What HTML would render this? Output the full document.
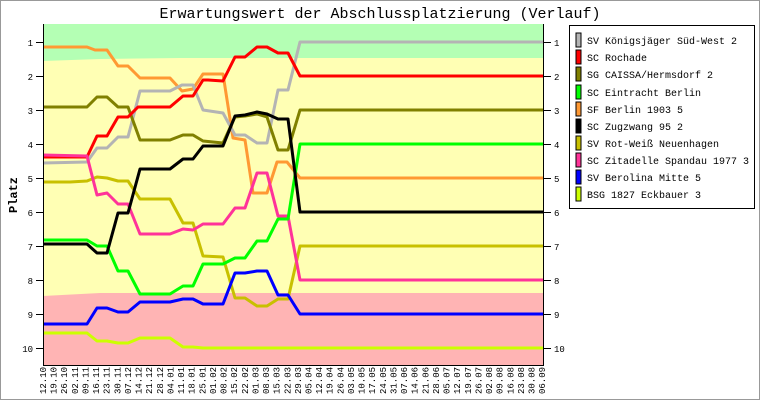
<!DOCTYPE html>
<html><head><meta charset="utf-8"><style>
html,body{margin:0;padding:0;background:#fff}
svg{display:block}
text{font-family:"Liberation Mono","DejaVu Sans Mono",monospace}
</style></head><body>
<svg width="760" height="400" viewBox="0 0 760 400" xmlns="http://www.w3.org/2000/svg">
<rect x="0.5" y="0.5" width="759" height="399" fill="#fff" stroke="#999"/>
<text x="380" y="18" font-size="15" text-anchor="middle">Erwartungswert der Abschlussplatzierung (Verlauf)</text>
<rect x="43" y="24" width="501" height="341" fill="#ffb4b4"/>
<polygon points="43,24 544,24 544,293 100,293 43,296" fill="#ffffb4"/>
<polygon points="43,24 544,24 544,58 180,58 100,59 43,61" fill="#b4ffb4"/>
<g fill="none" stroke-width="3" stroke-linejoin="round">
<polyline stroke="#ff9933" points="43,47 87,47 95,50 107,50 118,66 128,66 140,78 170,78 182,91 193,89 203,74 223,74 233,138 245,140 253,193 267,193 277,162 287,162 300,178 543,178"/>
<polyline stroke="#b4b4b4" points="43,163 87,162 97,148 107,148 118,137 128,137 140,91 170,91 182,85 193,85 203,110 223,113 235,135 245,135 257,143 267,143 278,90 288,90 300,42 543,42"/>
<polyline stroke="#808000" points="43,107 87,107 97,97 107,97 118,107 128,107 140,140 170,140 183,135 193,135 203,141 223,143 235,117 245,116 257,114 267,117 278,150 288,150 300,110 543,110"/>
<polyline stroke="#ff0000" points="43,157 87,157 97,136 107,136 118,117 128,117 138,107 170,107 183,96 193,96 203,80 208,80 223,81 235,57 245,57 257,47 267,47 278,53 288,53 300,76 543,76"/>
<polyline stroke="#c8c000" points="43,182 70,182 87,181 97,177 107,178 118,181 128,181 140,199 170,199 183,223 193,223 203,256 223,257 235,298 245,298 257,306 267,306 278,299 288,299 300,246 543,246"/>
<polyline stroke="#ff3399" points="43,155 87,156 97,195 107,193 118,204 128,204 140,234 170,234 183,229 193,230 203,224 223,224 235,208 245,208 257,173 267,173 278,216 288,216 300,280 543,280"/>
<polyline stroke="#00ff00" points="43,240 87,240 97,246 107,246 118,271 128,271 140,294 170,294 183,286 193,286 203,264 223,264 235,258 245,258 257,241 267,241 278,219 288,219 300,144 543,144"/>
<polyline stroke="#000000" points="43,244 87,244 97,253 107,253 118,213 128,213 140,169 170,169 183,159 193,159 203,146 223,146 235,116 245,115 257,112 267,114 278,119 288,119 300,212 543,212"/>
<polyline stroke="#0000ff" points="43,324 87,324 97,308 107,308 118,312 128,312 140,302 170,302 183,299 193,299 203,304 223,304 235,273 245,273 257,271 267,271 278,295 288,295 300,314 543,314"/>
<polyline stroke="#ccff00" points="43,333 87,333 97,341 107,341 118,343 128,343 140,338 170,338 183,347 193,347 203,348 543,348"/>
</g>
<g stroke="#000" stroke-width="1">
<line x1="43.5" y1="24" x2="43.5" y2="365.5"/>
<line x1="543.5" y1="24" x2="543.5" y2="365.5"/>
<line x1="43" y1="365.5" x2="544" y2="365.5"/>
<line x1="36" y1="42.5" x2="43" y2="42.5"/><line x1="544" y1="42.5" x2="551" y2="42.5"/>
<line x1="36" y1="76.5" x2="43" y2="76.5"/><line x1="544" y1="76.5" x2="551" y2="76.5"/>
<line x1="36" y1="110.5" x2="43" y2="110.5"/><line x1="544" y1="110.5" x2="551" y2="110.5"/>
<line x1="36" y1="144.5" x2="43" y2="144.5"/><line x1="544" y1="144.5" x2="551" y2="144.5"/>
<line x1="36" y1="178.5" x2="43" y2="178.5"/><line x1="544" y1="178.5" x2="551" y2="178.5"/>
<line x1="36" y1="212.5" x2="43" y2="212.5"/><line x1="544" y1="212.5" x2="551" y2="212.5"/>
<line x1="36" y1="246.5" x2="43" y2="246.5"/><line x1="544" y1="246.5" x2="551" y2="246.5"/>
<line x1="36" y1="280.5" x2="43" y2="280.5"/><line x1="544" y1="280.5" x2="551" y2="280.5"/>
<line x1="36" y1="314.5" x2="43" y2="314.5"/><line x1="544" y1="314.5" x2="551" y2="314.5"/>
<line x1="36" y1="348.5" x2="43" y2="348.5"/><line x1="544" y1="348.5" x2="551" y2="348.5"/>
</g>
<g font-size="9" text-anchor="end">
<text x="33" y="46">1</text><text x="33" y="80">2</text><text x="33" y="114">3</text><text x="33" y="148">4</text><text x="33" y="182">5</text><text x="33" y="216">6</text><text x="33" y="250">7</text><text x="33" y="284">8</text><text x="33" y="318">9</text><text x="33" y="352">10</text>
</g>
<g font-size="9">
<text x="554" y="46">1</text><text x="554" y="80">2</text><text x="554" y="114">3</text><text x="554" y="148">4</text><text x="554" y="182">5</text><text x="554" y="216">6</text><text x="554" y="250">7</text><text x="554" y="284">8</text><text x="554" y="318">9</text><text x="554" y="352">10</text>
</g>
<text x="17" y="195" font-size="12" font-weight="bold" text-anchor="middle" transform="rotate(-90 17 195)">Platz</text>
<rect x="569.5" y="25.5" width="185" height="183" fill="#fff" stroke="#000"/>
<g stroke="#000" stroke-width="1">
<rect x="576" y="33" width="5" height="14" fill="#b4b4b4"/>
<rect x="576" y="50" width="5" height="14" fill="#ff0000"/>
<rect x="576" y="67" width="5" height="14" fill="#808000"/>
<rect x="576" y="85" width="5" height="14" fill="#00ff00"/>
<rect x="576" y="102" width="5" height="14" fill="#ff9933"/>
<rect x="576" y="119" width="5" height="14" fill="#000000"/>
<rect x="576" y="136" width="5" height="14" fill="#c8c000"/>
<rect x="576" y="153" width="5" height="14" fill="#ff3399"/>
<rect x="576" y="170" width="5" height="14" fill="#0000ff"/>
<rect x="576" y="187" width="5" height="14" fill="#ccff00"/>
</g>
<g font-size="10">
<text x="587" y="44">SV Königsjäger Süd-West 2</text>
<text x="587" y="61">SC Rochade</text>
<text x="587" y="78">SG CAISSA/Hermsdorf 2</text>
<text x="587" y="96">SC Eintracht Berlin</text>
<text x="587" y="113">SF Berlin 1903 5</text>
<text x="587" y="130">SC Zugzwang 95 2</text>
<text x="587" y="147">SV Rot-Weiß Neuenhagen</text>
<text x="587" y="164">SC Zitadelle Spandau 1977 3</text>
<text x="587" y="181">SV Berolina Mitte 5</text>
<text x="587" y="198">BSG 1827 Eckbauer 3</text>
</g>
<g font-size="9">
<text transform="translate(46.0,394) rotate(-90)">12.10</text>
<text transform="translate(56.6,394) rotate(-90)">19.10</text>
<text transform="translate(67.2,394) rotate(-90)">26.10</text>
<text transform="translate(77.9,394) rotate(-90)">02.11</text>
<text transform="translate(88.5,394) rotate(-90)">09.11</text>
<text transform="translate(99.1,394) rotate(-90)">16.11</text>
<text transform="translate(109.7,394) rotate(-90)">23.11</text>
<text transform="translate(120.3,394) rotate(-90)">30.11</text>
<text transform="translate(131.0,394) rotate(-90)">07.12</text>
<text transform="translate(141.6,394) rotate(-90)">14.12</text>
<text transform="translate(152.2,394) rotate(-90)">21.12</text>
<text transform="translate(162.8,394) rotate(-90)">28.12</text>
<text transform="translate(173.4,394) rotate(-90)">04.01</text>
<text transform="translate(184.1,394) rotate(-90)">11.01</text>
<text transform="translate(194.7,394) rotate(-90)">18.01</text>
<text transform="translate(205.3,394) rotate(-90)">25.01</text>
<text transform="translate(215.9,394) rotate(-90)">01.02</text>
<text transform="translate(226.5,394) rotate(-90)">08.02</text>
<text transform="translate(237.2,394) rotate(-90)">15.02</text>
<text transform="translate(247.8,394) rotate(-90)">22.02</text>
<text transform="translate(258.4,394) rotate(-90)">01.03</text>
<text transform="translate(269.0,394) rotate(-90)">08.03</text>
<text transform="translate(279.6,394) rotate(-90)">15.03</text>
<text transform="translate(290.3,394) rotate(-90)">22.03</text>
<text transform="translate(300.9,394) rotate(-90)">29.03</text>
<text transform="translate(311.5,394) rotate(-90)">05.04</text>
<text transform="translate(322.1,394) rotate(-90)">12.04</text>
<text transform="translate(332.7,394) rotate(-90)">19.04</text>
<text transform="translate(343.4,394) rotate(-90)">26.04</text>
<text transform="translate(354.0,394) rotate(-90)">03.05</text>
<text transform="translate(364.6,394) rotate(-90)">10.05</text>
<text transform="translate(375.2,394) rotate(-90)">17.05</text>
<text transform="translate(385.8,394) rotate(-90)">24.05</text>
<text transform="translate(396.5,394) rotate(-90)">31.05</text>
<text transform="translate(407.1,394) rotate(-90)">07.06</text>
<text transform="translate(417.7,394) rotate(-90)">14.06</text>
<text transform="translate(428.3,394) rotate(-90)">21.06</text>
<text transform="translate(438.9,394) rotate(-90)">28.06</text>
<text transform="translate(449.6,394) rotate(-90)">05.07</text>
<text transform="translate(460.2,394) rotate(-90)">12.07</text>
<text transform="translate(470.8,394) rotate(-90)">19.07</text>
<text transform="translate(481.4,394) rotate(-90)">26.07</text>
<text transform="translate(492.0,394) rotate(-90)">02.08</text>
<text transform="translate(502.7,394) rotate(-90)">09.08</text>
<text transform="translate(513.3,394) rotate(-90)">16.08</text>
<text transform="translate(523.9,394) rotate(-90)">23.08</text>
<text transform="translate(534.5,394) rotate(-90)">30.08</text>
<text transform="translate(545.1,394) rotate(-90)">06.09</text>
</g>
</svg>
</body></html>
